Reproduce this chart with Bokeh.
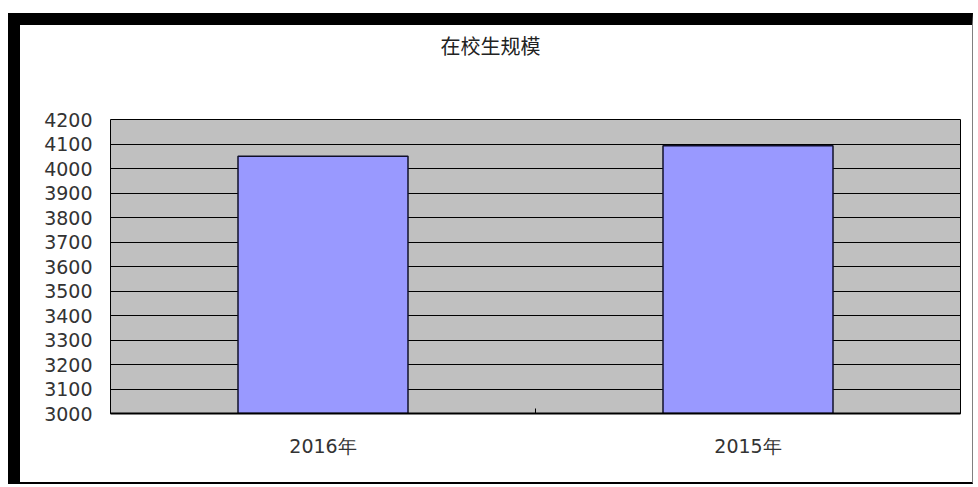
from bokeh.plotting import figure
from bokeh.models import Range1d, FixedTicker, Title
from bokeh.embed import file_html
from bokeh.resources import INLINE

# ---- data ----
categories = ["2016年", "2015年"]
students = [4050, 4093]
y_ticks = [3000, 3100, 3200, 3300, 3400, 3500, 3600, 3700, 3800, 3900, 4000, 4100, 4200]
title_text = "在校生规模"

centers = [i + 0.5 for i in range(len(categories))]
boundaries = list(range(len(categories) + 1))

p = figure(width=965, height=471,
           x_range=Range1d(0, len(categories)),
           y_range=Range1d(y_ticks[0], y_ticks[-1]),
           output_backend="svg", toolbar_location=None,
           min_border_left=90, min_border_right=25,
           min_border_top=94, min_border_bottom=83)

p.styles = {"border-top": "12px solid black", "border-left": "12px solid black",
            "border-right": "1px solid #808080", "border-bottom": "2px solid black",
            "margin-top": "13px", "margin-left": "8px"}

p.background_fill_color = "#C0C0C0"
p.border_fill_color = "white"
p.outline_line_color = "black"
p.outline_line_width = 1

p.vbar(x=centers, top=students, bottom=y_ticks[0], width=0.4,
       fill_color="#9999FF", line_color="#10102a", line_width=1.5)

# title
p.title.text = title_text
p.title.align = "left"
p.title.offset = 330
p.title.text_font = "Noto Sans CJK SC"
p.title.text_font_size = "20px"
p.title.text_font_style = "normal"
p.title.text_color = "#222222"
p.title.standoff = 0
# empty spacer between title and plot frame
p.add_layout(Title(text=" ", text_font_size="1px", standoff=57), "above")

# grid
p.xgrid.visible = False
p.ygrid.ticker = FixedTicker(ticks=y_ticks)
p.ygrid.grid_line_color = "black"
p.ygrid.grid_line_width = 1

# y axis
p.yaxis.ticker = FixedTicker(ticks=y_ticks)
p.yaxis.axis_line_color = None
p.yaxis.major_tick_line_color = None
p.yaxis.major_tick_out = 0
p.yaxis.minor_tick_line_color = None
p.yaxis.major_label_standoff = 18
p.yaxis.major_label_text_font = "DejaVu Sans"
p.yaxis.major_label_text_font_size = "19px"
p.yaxis.major_label_text_color = "#333333"

# x axis
p.xaxis.ticker = FixedTicker(ticks=centers, minor_ticks=boundaries)
p.xaxis.major_label_overrides = {c: lab for c, lab in zip(centers, categories)}
p.xaxis.axis_line_color = "black"
p.xaxis.axis_line_width = 2
p.xaxis.major_tick_line_color = None
p.xaxis.major_tick_out = 0
p.xaxis.minor_tick_line_color = "black"
p.xaxis.minor_tick_in = 5
p.xaxis.minor_tick_out = 0
p.xaxis.major_label_standoff = 21
p.xaxis.major_label_text_font = "DejaVu Sans"
p.xaxis.major_label_text_font_size = "19px"
p.xaxis.major_label_text_color = "#333333"

open("out.html", "w").write(file_html(p, INLINE))
